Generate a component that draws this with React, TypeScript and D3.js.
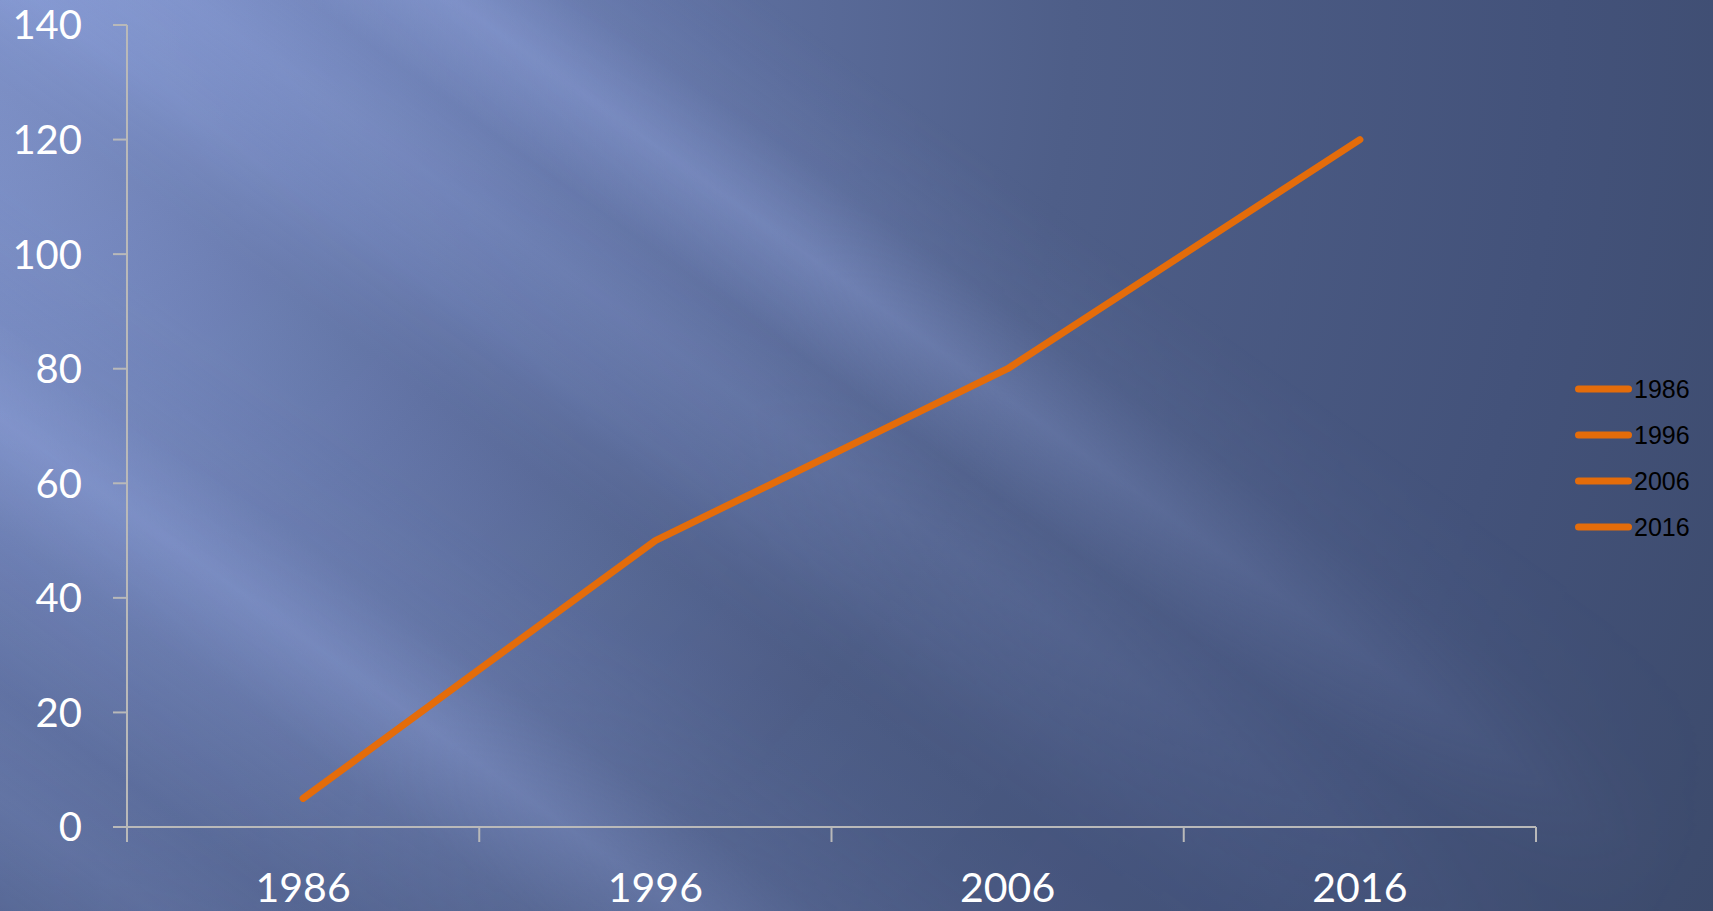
import React from "react";
import * as d3 from "d3";

const categories = ["1986", "1996", "2006", "2016"];
const values = [5, 50, 80, 120];
const yTicks = [0, 20, 40, 60, 80, 100, 120, 140];
const legendItems = ["1986", "1996", "2006", "2016"];

const W = 1713;
const H = 911;
const LINE_COLOR = "#E46C0A";
const AXIS_COLOR = "#b9b9b9";
const HI = "#a3b6f2";

// streak overlay stops: [s, opacity, colour] where s is the perpendicular coordinate
const streakStops: [number, number, string][] = [
  [-800, 0.0, HI],
  [-650, 0.14, HI],
  [-560, 0.05, HI],
  [-430, 0.16, HI],
  [-340, 0.4, HI],
  [-260, 0.14, HI],
  [-150, 0.03, HI],
  [-70, 0.03, "#000"],
  [20, 0.08, HI],
  [110, 0.18, HI],
  [180, 0.08, HI],
  [265, 0.38, HI],
  [340, 0.1, HI],
  [450, 0.0, HI],
  [1000, 0.0, HI],
];

export default function App() {
  const x = d3.scaleBand<string>().domain(categories).range([127, 1536]).padding(0);
  const y = d3.scaleLinear().domain([0, 140]).range([827, 25]);
  const cx = (c: string) => (x(c) ?? 0) + x.bandwidth() / 2;

  const line = d3
    .line<number>()
    .x((_, i) => cx(categories[i]))
    .y((d) => y(d));

  const n = [0.584, -0.811];
  const sMin = -800;
  const sMax = 1000;
  const p1 = [n[0] * sMin, n[1] * sMin];
  const p2 = [n[0] * sMax, n[1] * sMax];

  const boundaries = [...categories.map((c) => x(c) ?? 0), 1536];

  return (
    <svg
      width={W}
      height={H}
      style={{ position: "absolute", left: 0, top: 0, display: "block" }}
    >
      <defs>
        <radialGradient id="base" gradientUnits="userSpaceOnUse" cx={0} cy={0} r={1950}>
          <stop offset="0" stopColor="#8599d2" />
          <stop offset="0.3" stopColor="#6375a7" />
          <stop offset="0.55" stopColor="#4e5e88" />
          <stop offset="0.8" stopColor="#43527a" />
          <stop offset="1" stopColor="#3c4a6b" />
        </radialGradient>
        <linearGradient
          id="streaks"
          gradientUnits="userSpaceOnUse"
          x1={p1[0]}
          y1={p1[1]}
          x2={p2[0]}
          y2={p2[1]}
        >
          {streakStops.map(([s, o, c], i) => (
            <stop
              key={i}
              offset={(s - sMin) / (sMax - sMin)}
              stopColor={c}
              stopOpacity={o}
            />
          ))}
        </linearGradient>
        <radialGradient id="fade" gradientUnits="userSpaceOnUse" cx={0} cy={0} r={1900}>
          <stop offset="0" stopColor="#fff" stopOpacity={1} />
          <stop offset="0.45" stopColor="#fff" stopOpacity={0.9} />
          <stop offset="0.75" stopColor="#fff" stopOpacity={0.35} />
          <stop offset="1" stopColor="#fff" stopOpacity={0} />
        </radialGradient>
        <mask id="fadeMask" maskUnits="userSpaceOnUse" x={0} y={0} width={W} height={H}>
          <rect x={0} y={0} width={W} height={H} fill="url(#fade)" />
        </mask>
      </defs>
      <rect x={0} y={0} width={W} height={H} fill="url(#base)" />
      <rect x={0} y={0} width={W} height={H} fill="url(#streaks)" mask="url(#fadeMask)" />

      {/* Y axis */}
      <line x1={127} x2={127} y1={y(140)} y2={y(0)} stroke={AXIS_COLOR} strokeWidth={2} />
      {yTicks.map((t) => (
        <g key={t}>
          <line x1={113} x2={127} y1={y(t)} y2={y(t)} stroke={AXIS_COLOR} strokeWidth={2} />
          <text
            x={82}
            y={y(t)}
            dy="0.36em"
            textAnchor="end"
            fill="#ffffff"
            fontFamily="Lato, 'Open Sans', sans-serif"
            fontSize={40}
          >
            {t}
          </text>
        </g>
      ))}

      {/* X axis */}
      <line x1={127} x2={1536} y1={y(0)} y2={y(0)} stroke={AXIS_COLOR} strokeWidth={2} />
      {boundaries.map((b, i) => (
        <line key={i} x1={b} x2={b} y1={y(0)} y2={y(0) + 15} stroke={AXIS_COLOR} strokeWidth={2} />
      ))}
      {categories.map((c) => (
        <text
          key={c}
          x={cx(c)}
          y={902}
          textAnchor="middle"
          fill="#ffffff"
          fontFamily="Lato, 'Open Sans', sans-serif"
          fontSize={41}
        >
          {c}
        </text>
      ))}

      {/* Line */}
      <path
        d={line(values) ?? ""}
        fill="none"
        stroke={LINE_COLOR}
        strokeWidth={7}
        strokeLinecap="round"
        strokeLinejoin="round"
      />

      {/* Legend */}
      {legendItems.map((l, i) => {
        const ly = 389 + i * 46;
        return (
          <g key={l}>
            <line
              x1={1578.5}
              x2={1628.5}
              y1={ly}
              y2={ly}
              stroke={LINE_COLOR}
              strokeWidth={7}
              strokeLinecap="round"
            />
            <text
              x={1634}
              y={ly + 9}
              fill="#000000"
              fontFamily="'Liberation Sans', Arial, sans-serif"
              fontSize={25}
            >
              {l}
            </text>
          </g>
        );
      })}
    </svg>
  );
}
